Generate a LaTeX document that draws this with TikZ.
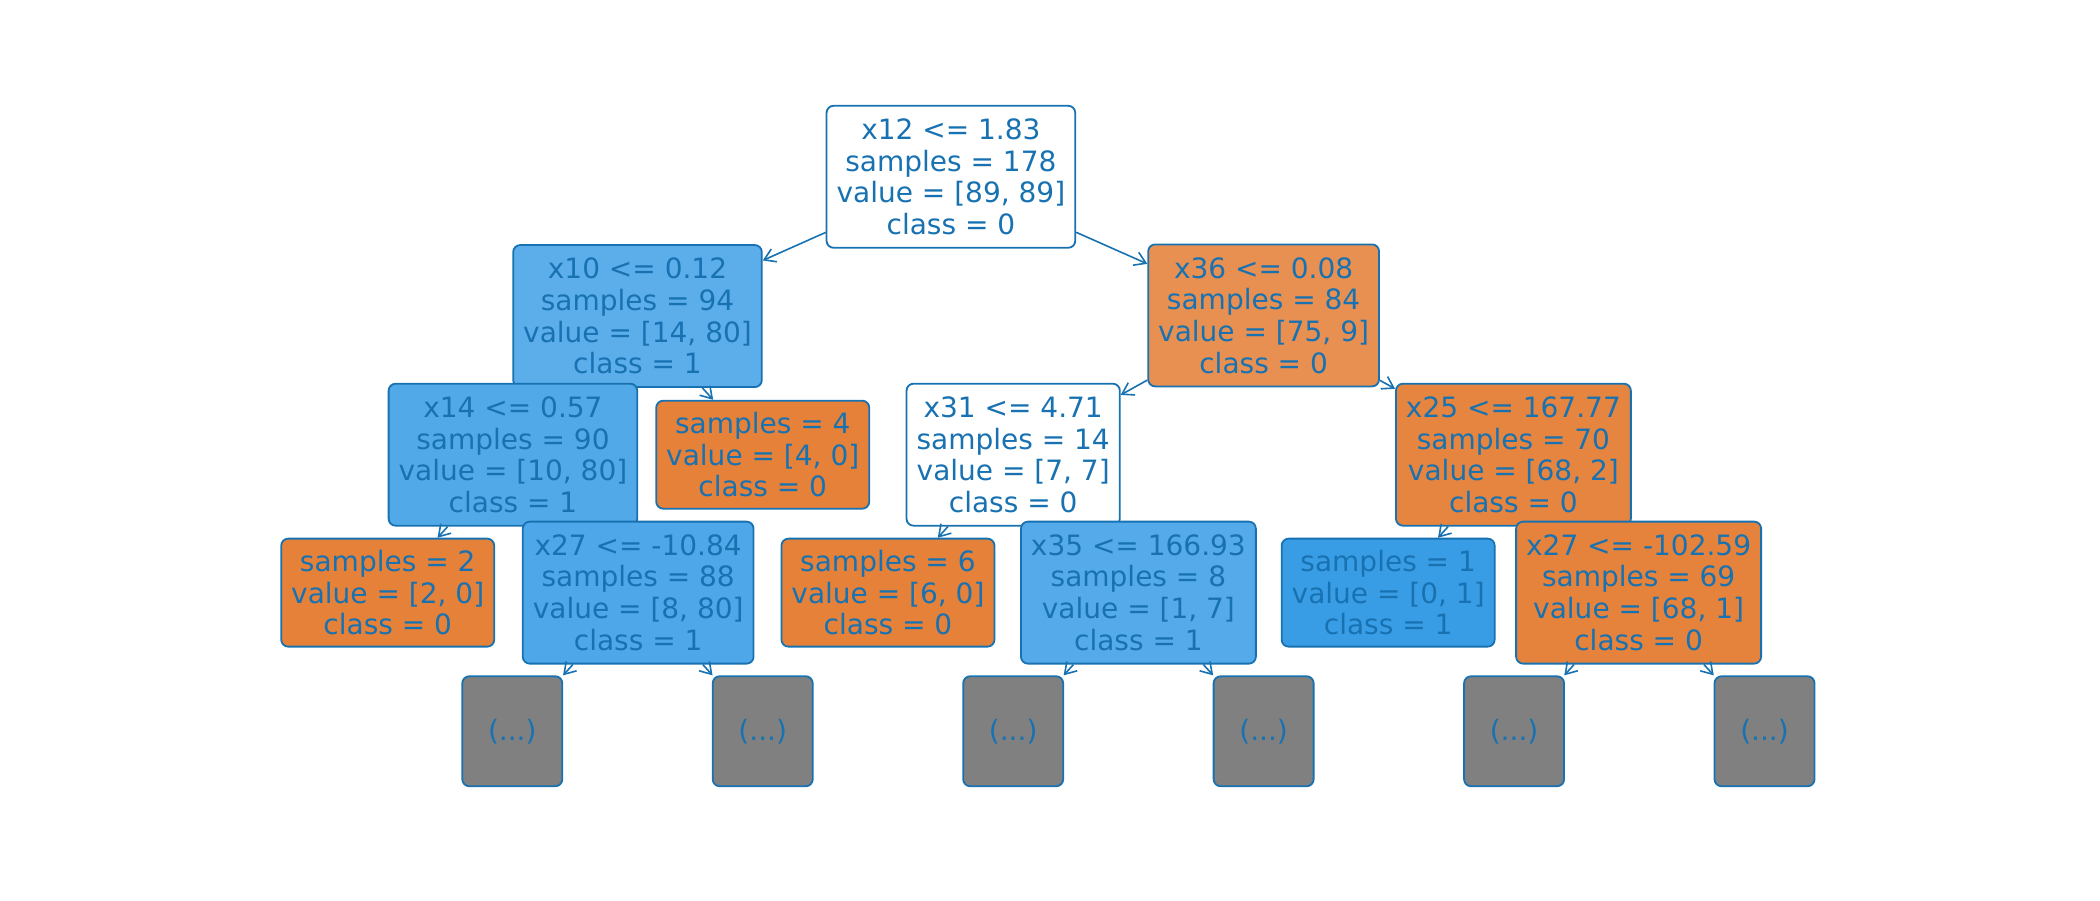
\documentclass[tikz,border=0pt]{standalone}
\usepackage{fontspec}
\setmainfont{DejaVu Sans}
\usetikzlibrary{arrows.meta}
\definecolor{edgeblue}{RGB}{24,114,178}
\definecolor{fx10}{RGB}{92,174,234}
\definecolor{fx14}{RGB}{82,169,232}
\definecolor{fx27a}{RGB}{77,167,232}
\definecolor{forange}{RGB}{229,129,57}
\definecolor{fx36}{RGB}{232,144,81}
\definecolor{fx25}{RGB}{230,133,63}
\definecolor{fx35}{RGB}{85,171,233}
\definecolor{fblue}{RGB}{57,157,229}
\definecolor{fx27b}{RGB}{229,131,60}
\definecolor{fgray}{RGB}{128,128,128}
\tikzset{
  treebox/.style={draw=edgeblue, line width=0.9pt, rounded corners=3.5pt,
    text=edgeblue, align=center, inner xsep=5pt, inner ysep=0pt,
    font=\fontsize{14pt}{15.85pt}\selectfont},
  fourline/.style={treebox, minimum height=71pt},
  threeline/.style={treebox, minimum height=54pt},
  moregray/.style={treebox, fill=fgray, minimum width=50pt, minimum height=55pt},
  treeedge/.style={draw=edgeblue, line width=0.8pt, -{Straight Barb[length=5.5pt,width=7pt]}}
}
\begin{document}
\begin{tikzpicture}[x=0.66964pt, y=-0.66964pt]
\useasboundingbox (0,0) rectangle (1568,672);
\fill[white] (0,0) rectangle (1568,672);
\node[fourline, fill=white] (root) at (710,132) {x12 <= 1.83\\samples = 178\\value = [89, 89]\\class = 0};
\node[fourline, fill=fx10] (x10) at (476,236) {x10 <= 0.12\\samples = 94\\value = [14, 80]\\class = 1};
\node[fourline, fill=fx14] (x14) at (383,339.5) {x14 <= 0.57\\samples = 90\\value = [10, 80]\\class = 1};
\node[threeline, fill=forange] (s2) at (289.5,442.5) {samples = 2\\value = [2, 0]\\class = 0};
\node[fourline, fill=fx27a] (x27a) at (476.5,442.5) {x27 <= -10.84\\samples = 88\\value = [8, 80]\\class = 1};
\node[moregray] (g1) at (382.5,546) {(...)};
\node[moregray] (g2) at (569.5,546) {(...)};
\node[threeline, fill=forange] (s4) at (569.5,339.5) {samples = 4\\value = [4, 0]\\class = 0};
\node[fourline, fill=fx36] (x36) at (943.5,235.5) {x36 <= 0.08\\samples = 84\\value = [75, 9]\\class = 0};
\node[fourline, fill=white] (x31) at (756.5,339.5) {x31 <= 4.71\\samples = 14\\value = [7, 7]\\class = 0};
\node[threeline, fill=forange] (s6) at (663,442.5) {samples = 6\\value = [6, 0]\\class = 0};
\node[fourline, fill=fx35] (x35) at (850,442.5) {x35 <= 166.93\\samples = 8\\value = [1, 7]\\class = 1};
\node[moregray] (g3) at (756.5,546) {(...)};
\node[moregray] (g4) at (943.5,546) {(...)};
\node[fourline, fill=fx25] (x25) at (1130,339.5) {x25 <= 167.77\\samples = 70\\value = [68, 2]\\class = 0};
\node[threeline, fill=fblue] (s1) at (1036.5,442.5) {samples = 1\\value = [0, 1]\\class = 1};
\node[fourline, fill=fx27b] (x27b) at (1223.5,442.5) {x27 <= -102.59\\samples = 69\\value = [68, 1]\\class = 0};
\node[moregray] (g5) at (1130.5,546) {(...)};
\node[moregray] (g6) at (1317.5,546) {(...)};
\draw[treeedge] (root) -- (x10);
\draw[treeedge] (root) -- (x36);
\draw[treeedge] (x10) -- (s4);
\draw[treeedge] (x14) -- (s2);
\draw[treeedge] (x27a) -- (g1);
\draw[treeedge] (x27a) -- (g2);
\draw[treeedge] (x36) -- (x31);
\draw[treeedge] (x36) -- (x25);
\draw[treeedge] (x31) -- (s6);
\draw[treeedge] (x35) -- (g3);
\draw[treeedge] (x35) -- (g4);
\draw[treeedge] (x25) -- (s1);
\draw[treeedge] (x27b) -- (g5);
\draw[treeedge] (x27b) -- (g6);
\end{tikzpicture}
\end{document}
